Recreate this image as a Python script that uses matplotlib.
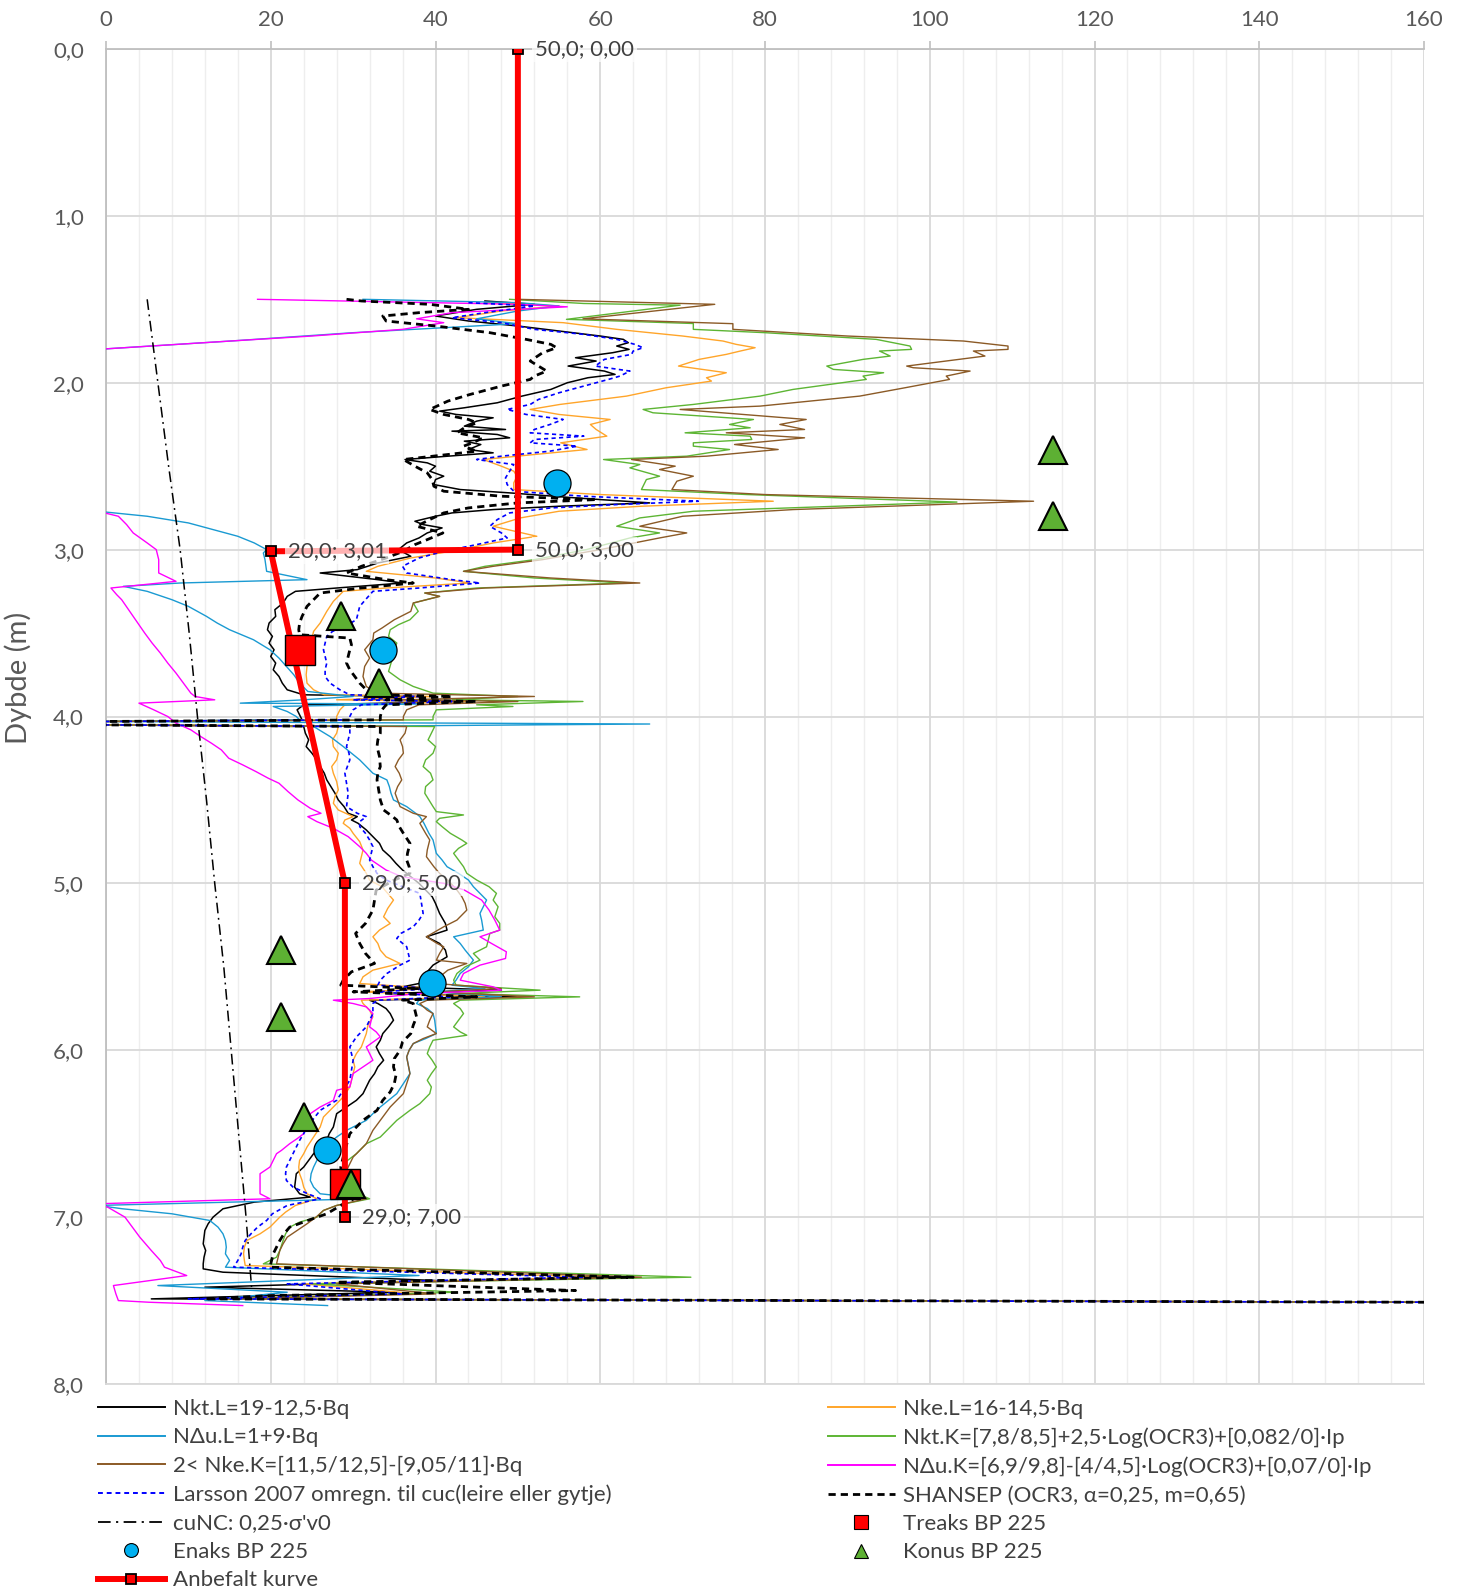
import matplotlib
matplotlib.use("Agg")
import matplotlib.pyplot as plt
from matplotlib.lines import Line2D
import numpy as np

plt.rcParams['font.family'] = ['Lato', 'DejaVu Sans']

# ---------------- data: undrained shear strength cu (kPa) vs depth (m) ----------------
nkt_l_depth = [1.51, 1.53, 1.56, 1.60, 1.63, 1.66, 1.69, 1.72, 1.74, 1.76, 1.78, 1.80, 1.82, 1.85, 1.87, 1.90,
               1.93, 1.95, 1.97, 2.00, 2.04, 2.08, 2.12, 2.15, 2.17, 2.19, 2.21, 2.23, 2.26, 2.28, 2.29, 2.31,
               2.33, 2.35, 2.37, 2.40, 2.42, 2.44, 2.46, 2.48, 2.50, 2.53, 2.56, 2.58, 2.61, 2.64, 2.66, 2.69,
               2.71, 2.72, 2.74, 2.76, 2.78, 2.80, 2.83, 2.85, 2.87, 2.90, 2.93, 2.96, 3.00, 3.04, 3.08, 3.12,
               3.14, 3.18, 3.20, 3.23, 3.25, 3.28, 3.32, 3.36, 3.40, 3.44, 3.48, 3.52, 3.56, 3.60, 3.64, 3.68,
               3.72, 3.76, 3.80, 3.84, 3.87, 3.88, 3.90, 3.91, 3.93, 3.96, 4.00, 4.02, 4.03, 4.05, 4.06, 4.10,
               4.14, 4.18, 4.22, 4.26, 4.30, 4.34, 4.38, 4.42, 4.46, 4.50, 4.54, 4.58, 4.60, 4.62, 4.64, 4.68,
               4.72, 4.76, 4.80, 4.84, 4.88, 4.92, 4.96, 5.00, 5.04, 5.08, 5.12, 5.18, 5.24, 5.28, 5.32, 5.36,
               5.40, 5.44, 5.49, 5.53, 5.57, 5.60, 5.62, 5.64, 5.66, 5.68, 5.70, 5.72, 5.75, 5.78, 5.82, 5.86,
               5.90, 5.94, 5.98, 6.02, 6.06, 6.10, 6.14, 6.18, 6.22, 6.26, 6.30, 6.34, 6.38, 6.42, 6.46, 6.50,
               6.54, 6.58, 6.62, 6.66, 6.70, 6.74, 6.78, 6.82, 6.86, 6.88, 6.91, 6.95, 7.00, 7.04, 7.08, 7.12,
               7.16, 7.20, 7.24, 7.28, 7.31, 7.33, 7.38, 7.42, 7.45, 7.49, 7.51]
nkt_l_cu = [46, 52, 45, 40, 44, 50, 55, 60, 62.8, 63.4, 62, 63.5, 61.5, 57, 59.5, 56.1,
            60.5, 61.8, 58.5, 56, 54, 50.5, 47.5, 43.5, 40.5, 42.5, 47, 45, 43.5, 48.5, 42, 47.5,
            49, 43.5, 45.5, 44, 47, 41.5, 36.3, 39, 40, 39.3, 41, 40, 39.8, 43, 49, 57,
            63, 66, 55, 47, 42, 40, 37.5, 38.5, 40.8, 39, 38, 36.5, 35.5, 37, 33, 30.5,
            26, 33, 36, 28, 23, 22, 21.5, 20.5, 20.6, 19.8, 19.6, 20.2, 19.8, 20.4, 20.0, 20.6,
            20.3, 21.0, 21.4, 22.0, 24, 38, 30, 44, 24, 23.2, 23.6, 23.8, -1, -1, 24, 24.2,
            24.6, 24.3, 25.0, 25.6, 26.0, 26.5, 26.8, 27.3, 27.8, 28.2, 28.9, 29.4, 30.5, 29.8, 30.6, 31.6,
            32.4, 33.2, 33.6, 34.5, 35.2, 36.0, 37.0, 38, 38.8, 39.6, 40.0, 40.5, 41.2, 41.4, 38.9, 40.5,
            41.2, 41.4, 39.7, 39.0, 40.5, 38, 36, 48, 34, 50, 32, 33.0, 34.0, 34.5, 34.9, 34.3,
            33.6, 33.3, 32.8, 33.2, 33.7, 33.0, 32.6, 32.0, 31.6, 31.2, 30.4, 29.2, 28.0, 27.8, 27.6, 27.1,
            26.8, 26.0, 25.2, 24.6, 24.0, 23.1, 23.0, 22.9, 23.5, 24.8, 18, 14.2, 13.0, 12.4, 12.0, 11.9,
            11.8, 12.1, 11.9, 11.8, 11.8, 14.2, 40, 12.0, 35, 5.5, 160]

nke_l_depth = [1.52, 1.54, 1.57, 1.61, 1.64, 1.68, 1.72, 1.75, 1.77, 1.79, 1.81, 1.83, 1.86, 1.90, 1.94, 1.97,
               1.99, 2.03, 2.08, 2.13, 2.16, 2.19, 2.22, 2.25, 2.28, 2.32, 2.36, 2.40, 2.43, 2.46, 2.50, 2.53,
               2.56, 2.60, 2.64, 2.67, 2.71, 2.74, 2.77, 2.81, 2.86, 2.92, 2.96, 3.00, 3.05, 3.10, 3.13, 3.17,
               3.20, 3.23, 3.25, 3.31, 3.37, 3.44, 3.49, 3.55, 3.60, 3.65, 3.70, 3.75, 3.80, 3.84, 3.87, 3.88,
               3.90, 3.91, 3.93, 3.96, 4.00, 4.02, 4.03, 4.05, 4.06, 4.10, 4.14, 4.18, 4.22, 4.26, 4.30, 4.34,
               4.39, 4.44, 4.48, 4.52, 4.56, 4.60, 4.62, 4.64, 4.67, 4.70, 4.75, 4.80, 4.84, 4.88, 4.94, 4.98,
               5.02, 5.06, 5.10, 5.15, 5.20, 5.24, 5.28, 5.32, 5.36, 5.40, 5.44, 5.48, 5.52, 5.56, 5.60, 5.63,
               5.65, 5.68, 5.70, 5.72, 5.76, 5.80, 5.85, 5.90, 5.94, 5.98, 6.02, 6.06, 6.10, 6.14, 6.18, 6.22,
               6.28, 6.34, 6.40, 6.46, 6.52, 6.58, 6.62, 6.66, 6.70, 6.74, 6.78, 6.82, 6.86, 6.89, 6.93, 6.97,
               7.00, 7.03, 7.06, 7.10, 7.14, 7.18, 7.22, 7.26, 7.29, 7.36, 7.40, 7.46, 7.49, 7.51]
nke_l_cu = [46, 55, 48, 42.6, 55.5, 62, 70, 74.9, 76.5, 78.8, 77, 75.3, 72, 69.5, 75.3, 72.9,
            73.5, 68, 63.2, 55.1, 51.5, 55, 61.2, 58.8, 59.5, 60.8, 55.2, 58.4, 52, 45.8, 48, 49.5,
            49.9, 49.5, 49.5, 60, 81.0, 65, 55, 50.3, 47.0, 52.3, 47, 43, 37, 33, 31.6, 40,
            44.2, 34, 28.8, 27.6, 26.8, 26.0, 25.2, 24.9, 24.8, 24.5, 24.4, 24.3, 24.4, 25.2, 26.5, 40,
            28, 44, 29, 28.4, 28.0, 28.0, -1, -1, 28.2, 28.0, 27.5, 27.6, 28.2, 28.0, 27.4, 27.6,
            28.0, 28.2, 27.8, 27.6, 28.2, 30.0, 29.0, 28.8, 29.6, 30.0, 30.8, 31.2, 31.0, 30.8, 31.6, 32.0,
            33.5, 34.2, 34.9, 34.2, 33.7, 34.5, 33.2, 32.4, 33.0, 33.3, 34, 35.7, 32.4, 31.2, 30.8, 40,
            31, 46, 31, 31.2, 32.0, 32.4, 31.8, 31.6, 31.3, 31.0, 30.4, 30.0, 30.2, 30.0, 29.8, 29.6,
            28.8, 27.6, 26.4, 26.0, 25.2, 24.4, 24.0, 23.5, 23.4, 23.5, 23.8, 24.0, 24.4, 25.6, 23, 21.8,
            21.1, 20.5, 19.9, 18.7, 17.1, 16.8, 16.7, 16.8, 16.9, 60, 24, 38, 12, 160]

ndu_l_depth = [1.50, 1.52, 1.54, 1.57, 1.617, 1.646, 1.70, 1.75, 1.80, 2.77, 2.80, 2.84, 2.88, 2.92, 2.96, 3.00,
               3.02, 3.06, 3.13, 3.18, 3.20, 3.22, 3.25, 3.30, 3.34, 3.40, 3.44, 3.48, 3.54, 3.60, 3.65, 3.70,
               3.75, 3.80, 3.85, 3.88, 3.90, 3.92, 3.925, 3.94, 3.97, 4.00, 4.02, 4.03, 4.045, 4.06, 4.09, 4.12,
               4.15, 4.18, 4.22, 4.26, 4.30, 4.34, 4.38, 4.42, 4.46, 4.50, 4.54, 4.58, 4.60, 4.64, 4.70, 4.74,
               4.78, 4.82, 4.86, 4.90, 4.94, 4.98, 5.02, 5.06, 5.10, 5.14, 5.18, 5.22, 5.28, 5.32, 5.36, 5.40,
               5.46, 5.50, 5.54, 5.58, 5.61, 5.63, 5.65, 5.68, 5.70, 5.72, 5.75, 5.78, 5.82, 5.86, 5.90, 5.93,
               5.96, 6.00, 6.04, 6.09, 6.14, 6.20, 6.26, 6.30, 6.34, 6.38, 6.42, 6.48, 6.52, 6.56, 6.60, 6.66,
               6.70, 6.74, 6.78, 6.82, 6.86, 6.89, 6.93, 6.95, 6.98, 7.02, 7.06, 7.10, 7.14, 7.18, 7.22, 7.26,
               7.30, 7.35, 7.41, 7.45, 7.50, 7.53]
ndu_l_cu = [31.2, 50, 55, 50, 45, 49.9, 30, 15.1, -1, -1, 5, 10, 13, 16, 18, 19.5,
            19.1, 19.3, 19.5, 24.4, 9, 2.1, 5, 8, 10, 12.2, 13.5, 15.0, 17.9, 19.9, 21, 21.9,
            22.8, 23.5, 24.5, 30, 24, 16.3, 38, 20.3, 22, 23.1, 23.5, -1, 66, 25.2, 26.2, 27.2,
            28, 28.8, 29.8, 30.8, 31.6, 32.4, 34.1, 34.4, 34.6, 34.9, 36.5, 37.6, 38.1, 38.6, 39.2, 39.7,
            39.9, 40.1, 40.8, 41.4, 42.8, 44.0, 44.6, 45.4, 46.2, 45.8, 45.4, 45.6, 45.8, 42.2, 43.0, 43.6,
            44.6, 44.0, 43.0, 42.5, 42, 46, 40, 48, 38, 37.7, 39.0, 39.7, 39.9, 40.0, 40.1, 38.8,
            37.3, 36.8, 36.5, 36.7, 36.9, 36.1, 35.3, 34.3, 33.3, 32.4, 31.6, 29.2, 28, 27, 26.2, 25.6,
            25.2, 24.9, 24.8, 25.2, 26.0, 31.6, -1, 2, 8, 12.6, 13.6, 14.2, 14.5, 14.6, 14.5, 15.0,
            14.5, 38, 6.3, 22, 12, 26.9]

nkt_k_depth = [1.50, 1.525, 1.535, 1.62, 1.645, 1.68, 1.70, 1.74, 1.78, 1.80, 1.81, 1.84, 1.86, 1.90, 1.92, 1.94,
               1.96, 1.98, 2.04, 2.08, 2.13, 2.16, 2.18, 2.22, 2.25, 2.27, 2.30, 2.32, 2.34, 2.36, 2.38, 2.40,
               2.44, 2.46, 2.49, 2.51, 2.56, 2.58, 2.64, 2.67, 2.715, 2.77, 2.81, 2.86, 2.90, 2.93, 3.00, 3.06,
               3.10, 3.13, 3.17, 3.20, 3.23, 3.26, 3.28, 3.32, 3.37, 3.42, 3.45, 3.48, 3.52, 3.56, 3.60, 3.64,
               3.68, 3.73, 3.78, 3.82, 3.86, 3.88, 3.90, 3.91, 3.93, 3.94, 3.96, 4.00, 4.02, 4.03, 4.05, 4.06,
               4.10, 4.14, 4.18, 4.22, 4.26, 4.30, 4.34, 4.38, 4.42, 4.46, 4.50, 4.54, 4.57, 4.59, 4.61, 4.63,
               4.66, 4.70, 4.74, 4.76, 4.79, 4.82, 4.86, 4.90, 4.94, 4.98, 5.02, 5.06, 5.10, 5.14, 5.20, 5.24,
               5.28, 5.30, 5.34, 5.38, 5.42, 5.46, 5.50, 5.54, 5.58, 5.61, 5.64, 5.66, 5.68, 5.70, 5.72, 5.75,
               5.78, 5.82, 5.86, 5.89, 5.91, 5.94, 5.98, 6.02, 6.06, 6.10, 6.14, 6.18, 6.22, 6.26, 6.30, 6.32,
               6.36, 6.42, 6.48, 6.52, 6.56, 6.62, 6.68, 6.74, 6.80, 6.86, 6.89, 6.93, 6.96, 7.00, 7.03, 7.06,
               7.10, 7.14, 7.20, 7.24, 7.28, 7.36, 7.40, 7.45, 7.49, 7.51]
nkt_k_cu = [49, 58, 69.7, 55.9, 71.3, 71.3, 80, 93.5, 97.6, 97.8, 93.9, 95.2, 91.9, 87.5, 88.3, 94.4,
            91.9, 92.3, 83.4, 79.4, 71.3, 65.2, 66.4, 78.6, 75.7, 78.2, 70.3, 78.2, 78.4, 71.3, 71.3, 75.7,
            70.5, 60.4, 64.8, 63.6, 67.2, 65.6, 65.0, 77.8, 103.3, 71.3, 64.8, 62.0, 67.2, 63.6, 58.3, 52,
            46, 43.4, 52, 63, 45, 38.7, 40.5, 37.3, 37.9, 36.9, 35.5, 34.5, 34.3, 35.3, 35.0, 34.9,
            34.6, 34.3, 35.7, 37.3, 39.7, 50, 42, 57.9, 45, 49.4, 40.1, 39.7, 39.7, -1, -1, 39.9,
            39.5, 39.1, 40.0, 39.7, 38.8, 38.5, 39.4, 39.7, 38.8, 38.7, 39.2, 39.7, 40.1, 43.4, 40.5, 40.1,
            40.8, 41.8, 43.2, 43.8, 42.8, 42.2, 42.8, 43.4, 43.8, 45, 46.5, 47.4, 47.0, 47.6, 47.2, 47.8,
            47.8, 46.6, 46.4, 46.2, 44.6, 45.4, 43.6, 42.6, 42.2, 42.5, 52.7, 43, 57.5, 43, 42.2, 43.0,
            43.4, 42.8, 42.2, 43.0, 43.8, 39.7, 39.3, 39.0, 39.6, 40.1, 39.5, 39.0, 39.5, 39.3, 38.5, 38.1,
            36.9, 35.3, 34.1, 33.3, 31.6, 30.4, 28.8, 29.5, 30, 30.5, 32.0, 28, 26.4, 25.6, 23.5, 22.3,
            21.8, 21.5, 21.1, 20.7, 19.1, 71, 25, 42.6, 15, 160]

nke_k_depth = [1.50, 1.53, 1.617, 1.646, 1.68, 1.72, 1.75, 1.78, 1.80, 1.81, 1.84, 1.87, 1.90, 1.91, 1.93, 1.96,
               1.98, 2.03, 2.08, 2.14, 2.16, 2.22, 2.25, 2.28, 2.30, 2.33, 2.37, 2.40, 2.44, 2.46, 2.50, 2.52,
               2.56, 2.59, 2.64, 2.67, 2.71, 2.76, 2.80, 2.86, 2.90, 2.93, 3.00, 3.06, 3.10, 3.13, 3.17, 3.20,
               3.23, 3.26, 3.28, 3.32, 3.37, 3.42, 3.47, 3.50, 3.54, 3.60, 3.65, 3.70, 3.76, 3.82, 3.86, 3.88,
               3.90, 3.91, 3.93, 3.96, 4.00, 4.02, 4.03, 4.05, 4.06, 4.10, 4.14, 4.18, 4.22, 4.26, 4.30, 4.34,
               4.38, 4.42, 4.46, 4.50, 4.54, 4.58, 4.60, 4.64, 4.70, 4.74, 4.80, 4.84, 4.90, 4.94, 4.98, 5.04,
               5.08, 5.12, 5.16, 5.22, 5.26, 5.32, 5.36, 5.38, 5.42, 5.46, 5.48, 5.52, 5.56, 5.60, 5.63, 5.65,
               5.68, 5.70, 5.72, 5.76, 5.78, 5.82, 5.86, 5.90, 5.93, 5.96, 6.00, 6.04, 6.09, 6.14, 6.20, 6.26,
               6.30, 6.34, 6.38, 6.42, 6.48, 6.52, 6.56, 6.60, 6.64, 6.68, 6.72, 6.78, 6.84, 6.89, 6.93, 6.96,
               7.00, 7.04, 7.08, 7.12, 7.16, 7.20, 7.24, 7.28, 7.36, 7.40, 7.46, 7.49, 7.51]
nke_k_cu = [50, 73.9, 57.9, 76.1, 76.1, 90, 104.1, 109.5, 109.5, 105.3, 106.7, 102.0, 97.2, 98, 104.9, 102.0,
            102.4, 97, 91.5, 79.4, 69.7, 85.0, 81.8, 84.8, 75.3, 84.8, 76.3, 81.6, 72.9, 63.8, 69.1, 67.2,
            71.3, 69.3, 68.7, 80, 112.6, 83.4, 70, 64.8, 70.5, 67.2, 60, 53, 47, 43.4, 54, 64.8,
            46, 38.7, 40.5, 37.3, 37.0, 35.0, 33.5, 32.5, 32.4, 31.4, 32.0, 31.4, 31.2, 31.6, 32.9, 52,
            36, 50, 38, 36.5, 36.1, 36.1, -1, -1, 36.5, 36.3, 35.7, 36.0, 36.1, 35.5, 35.1, 35.6,
            35.9, 35.4, 35.1, 35.4, 35.7, 37.3, 38.9, 38.1, 38.8, 39.3, 39.0, 38.9, 39.8, 40.5, 41.5, 42.6,
            43.2, 43.6, 43.8, 42.6, 41.0, 38.9, 40.2, 41.0, 40.5, 40.1, 43.8, 41.5, 40.5, 40, 48, 40,
            52, 39, 38.1, 39.0, 39.7, 39.3, 39.0, 40.1, 38.5, 37.3, 36.8, 36.5, 36.7, 36.9, 36.5, 36.1,
            35.3, 34.5, 33.9, 33.3, 32.4, 32.0, 31.6, 30.8, 30.0, 29.6, 29.2, 29.5, 30.2, 31.6, 28, 26.4,
            25.5, 24.4, 23.2, 22.0, 21.5, 21.1, 20.9, 20.7, 65, 28, 40, 15, 160]

ndu_k_depth = [1.50, 1.53, 1.545, 1.58, 1.617, 1.64, 1.68, 1.72, 1.75, 1.80, 2.77, 2.80, 2.85, 2.90, 2.96, 3.00,
               3.06, 3.14, 3.19, 3.23, 3.27, 3.30, 3.35, 3.40, 3.45, 3.50, 3.56, 3.62, 3.68, 3.74, 3.80, 3.86,
               3.88, 3.90, 3.92, 3.96, 4.00, 4.04, 4.08, 4.12, 4.16, 4.20, 4.25, 4.29, 4.33, 4.37, 4.40, 4.45,
               4.50, 4.55, 4.58, 4.60, 4.63, 4.67, 4.72, 4.78, 4.82, 4.86, 4.92, 4.96, 5.00, 5.04, 5.10, 5.16,
               5.22, 5.28, 5.32, 5.36, 5.41, 5.45, 5.49, 5.54, 5.58, 5.62, 5.64, 5.66, 5.69, 5.70, 5.72, 5.74,
               5.78, 5.82, 5.86, 5.89, 5.92, 5.98, 6.02, 6.06, 6.10, 6.14, 6.18, 6.22, 6.24, 6.30, 6.34, 6.38,
               6.44, 6.50, 6.53, 6.56, 6.60, 6.62, 6.66, 6.70, 6.74, 6.80, 6.86, 6.89, 6.92, 6.94, 7.00, 7.06,
               7.12, 7.20, 7.26, 7.30, 7.35, 7.41, 7.46, 7.50, 7.51, 7.53]
ndu_k_cu = [18.4, 50, 56, 42, 37.7, 41, 36, 25, 15.1, -1, -1, 1.5, 2.5, 3.3, 5, 6.1,
            6.4, 6.4, 8.5, 0.6, 1.3, 1.9, 2.6, 3.3, 4.0, 4.7, 5.6, 6.6, 7.5, 8.5, 9.4, 10.3,
            10.8, 13.2, 4.0, 5.8, 7.5, 8.5, 10.3, 11.5, 12.8, 14, 14.9, 16.6, 18.2, 19.7, 21.0, 22.1,
            23.3, 24.8, 26.1, 24.5, 25.6, 27.6, 29.4, 30.8, 31.6, 32.2, 34, 35.9, 41.0, 43.5, 45.6, 46.5,
            47.2, 47.8, 45.4, 46.8, 48.6, 48.5, 45.4, 43.4, 43, 47, 48, 38, 32, 27.6, 30, 31.6,
            32.4, 32.2, 32.0, 32.8, 33.3, 31.6, 32.0, 32.4, 31.2, 30.0, 29.8, 29.6, 28.0, 27.6, 26.0, 24.8,
            24.4, 24.0, 23.2, 22.3, 21.3, 20.7, 20.3, 19.9, 18.7, 18.7, 18.7, 19.9, -1, 0.2, 2.3, 3.2,
            4.1, 5.5, 6.6, 7.1, 9.8, 0.9, 1.2, 1.5, 5.2, 16.6]

larsson_depth = [1.52, 1.54, 1.58, 1.61, 1.64, 1.68, 1.71, 1.74, 1.77, 1.79, 1.81, 1.83, 1.86, 1.90, 1.93, 1.96,
                 1.98, 2.02, 2.06, 2.10, 2.13, 2.16, 2.19, 2.22, 2.25, 2.28, 2.30, 2.32, 2.34, 2.36, 2.38, 2.41,
                 2.44, 2.46, 2.49, 2.53, 2.57, 2.61, 2.65, 2.68, 2.71, 2.73, 2.75, 2.78, 2.82, 2.86, 2.90, 2.93,
                 2.97, 3.01, 3.05, 3.10, 3.14, 3.18, 3.20, 3.23, 3.25, 3.30, 3.34, 3.38, 3.42, 3.46, 3.49, 3.52,
                 3.56, 3.60, 3.64, 3.68, 3.72, 3.76, 3.80, 3.84, 3.87, 3.88, 3.90, 3.91, 3.93, 3.96, 4.00, 4.02,
                 4.03, 4.05, 4.06, 4.10, 4.14, 4.18, 4.22, 4.26, 4.30, 4.34, 4.40, 4.46, 4.50, 4.54, 4.58, 4.60,
                 4.63, 4.66, 4.70, 4.74, 4.78, 4.82, 4.86, 4.90, 4.94, 4.98, 5.02, 5.06, 5.12, 5.18, 5.22, 5.26,
                 5.30, 5.33, 5.38, 5.42, 5.46, 5.49, 5.54, 5.58, 5.61, 5.63, 5.65, 5.68, 5.70, 5.72, 5.78, 5.82,
                 5.86, 5.92, 5.98, 6.02, 6.06, 6.12, 6.18, 6.24, 6.30, 6.36, 6.41, 6.46, 6.50, 6.54, 6.58, 6.62,
                 6.66, 6.70, 6.74, 6.78, 6.82, 6.86, 6.89, 6.93, 6.98, 7.02, 7.06, 7.10, 7.14, 7.18, 7.22, 7.26,
                 7.30, 7.36, 7.40, 7.46, 7.49, 7.51]
larsson_cu = [44, 52, 46, 42, 48, 52, 58, 62, 64.2, 65.2, 64, 63.8, 60.5, 59.4, 63.6, 62.4,
              61, 58, 55, 52.5, 51.5, 48.7, 51, 55.5, 53.9, 52, 51.5, 58, 52, 51.5, 57.2, 53.9,
              48, 45, 49.5, 49.0, 48.5, 48.7, 49.5, 58, 71.9, 62, 54, 49, 47.5, 46.6, 48, 48.7,
              45, 41, 38, 36, 36.5, 42, 45.4, 38, 32.4, 31.5, 30.8, 30.6, 30.4, 29, 27.5, 26.8,
              26.6, 26.4, 26.6, 26.8, 26.6, 26.6, 27.2, 28.4, 29.6, 38, 30, 42, 31, 30, 29.6, 29.6,
              -1, -1, 29.6, 29.6, 29.4, 29.2, 29.5, 29.6, 29.3, 29.0, 29.2, 29.4, 29.3, 29.2, 30.5, 31.6,
              30.8, 30.8, 31.5, 32.0, 32.4, 32.2, 32.0, 32.4, 32.9, 34, 36, 38.1, 38.3, 38.5, 38, 37.3,
              35.8, 35.3, 36.5, 36.7, 36.9, 35.7, 34.1, 33.3, 33, 40, 33, 42, 33, 32.4, 32.4, 32,
              31.6, 30.4, 29.6, 29.8, 30.0, 29.8, 29.6, 28.8, 28.0, 26.0, 25.2, 24.4, 24.0, 23.5, 23.1, 22.7,
              22.3, 21.9, 21.8, 21.9, 22.7, 24.5, 26, 22, 20.2, 19.5, 18.4, 17.6, 16.9, 16.6, 16.4, 16.0,
              15.5, 58, 22, 36, 10, 160]

shansep_depth = [1.50, 1.51, 1.53, 1.56, 1.58, 1.60, 1.63, 1.66, 1.70, 1.74, 1.77, 1.79, 1.82, 1.87, 1.90, 1.93,
                 1.96, 1.98, 2.02, 2.07, 2.11, 2.16, 2.19, 2.22, 2.24, 2.27, 2.30, 2.33, 2.36, 2.38, 2.41, 2.43,
                 2.46, 2.50, 2.54, 2.58, 2.62, 2.65, 2.68, 2.70, 2.72, 2.75, 2.78, 2.82, 2.86, 2.90, 2.94, 2.97,
                 3.01, 3.05, 3.10, 3.14, 3.18, 3.20, 3.23, 3.26, 3.30, 3.34, 3.40, 3.44, 3.48, 3.51, 3.53, 3.57,
                 3.60, 3.64, 3.68, 3.72, 3.76, 3.80, 3.84, 3.87, 3.88, 3.90, 3.91, 3.93, 3.96, 4.00, 4.02, 4.03,
                 4.05, 4.06, 4.10, 4.14, 4.18, 4.24, 4.30, 4.34, 4.38, 4.44, 4.50, 4.56, 4.60, 4.62, 4.66, 4.70,
                 4.76, 4.82, 4.86, 4.90, 4.94, 4.98, 5.04, 5.10, 5.16, 5.24, 5.30, 5.36, 5.42, 5.48, 5.53, 5.58,
                 5.61, 5.63, 5.65, 5.68, 5.70, 5.72, 5.76, 5.80, 5.85, 5.90, 5.95, 6.00, 6.05, 6.10, 6.15, 6.20,
                 6.25, 6.30, 6.36, 6.42, 6.46, 6.50, 6.55, 6.60, 6.70, 6.80, 6.88, 6.93, 6.98, 7.02, 7.06, 7.10,
                 7.14, 7.18, 7.22, 7.26, 7.30, 7.36, 7.39, 7.44, 7.47, 7.49, 7.51]
shansep_cu = [29.2, 31, 39.3, 44, 38, 33.6, 34.0, 40, 46.6, 51, 54.0, 54.7, 53, 51.5, 52.5, 53.5,
              52, 51.5, 48, 44.2, 41.5, 39.3, 41, 44, 45.0, 43.5, 42.6, 45.8, 44.5, 43.4, 45.0, 41.5,
              36.1, 37.5, 39.0, 39.6, 39.8, 41, 48, 59.6, 50, 44, 41, 39.3, 37.7, 40.9, 39, 37.5,
              36.1, 34, 31, 29.2, 34, 37.3, 31, 26, 25.2, 24.4, 23.8, 23.5, 23.4, 23.5, 29.6, 29.8,
              29.6, 29.4, 29.2, 29.6, 30.2, 30.8, 31.6, 33, 42, 34, 45, 34, 33.5, 33.3, 33.3, -1,
              -1, 33.3, 33.3, 33.0, 32.9, 33.2, 33.3, 33.0, 32.9, 33.1, 33.3, 33.7, 34.8, 35.3, 35.6, 36.1,
              36.9, 36.6, 36.5, 36.8, 36.9, 35, 32.8, 32.6, 32.4, 31.5, 30.3, 30.8, 31.5, 32.6, 29.8, 28.8,
              28.5, 38, 30, 45, 36, 37.3, 37.5, 37.7, 37.3, 37.0, 36.0, 35.7, 35.0, 34.9, 35.2, 35.0,
              34.5, 33.6, 32.9, 31.2, 30.4, 29.6, 29.3, 29.0, 28.5, 28.7, 30.5, 28.5, 26.8, 24.5, 22.3, 21.6,
              21.1, 20.7, 20.3, 20.1, 19.9, 64, 28, 57, 20, 12, 160]

cunc_depth = [1.5, 2.0, 2.5, 3.0, 3.5, 4.0, 4.5, 5.0, 5.5, 6.0, 6.5, 7.0, 7.44]
cunc_cu = [5.0, 6.3, 7.6, 9.0, 10.1, 11.1, 12.2, 13.2, 14.3, 15.2, 16.1, 17.0, 17.7]

# laboratory and cone tests, BP 225
treaks_depth = [3.6, 6.8]
treaks_cu = [23.5, 29.0]
enaks_depth = [2.6, 3.6, 5.6, 6.6]
enaks_cu = [54.7, 33.6, 39.6, 26.8]
konus_depth = [2.4, 2.8, 3.4, 3.8, 5.4, 5.8, 6.4, 6.8]
konus_cu = [115.0, 115.0, 28.5, 33.2, 21.2, 21.2, 24.0, 29.8]

# recommended design profile
anbefalt_depth = [0.00, 3.00, 3.01, 5.00, 7.00]
anbefalt_cu = [50.0, 50.0, 20.0, 29.0, 29.0]

x_ticks = [0, 20, 40, 60, 80, 100, 120, 140, 160]
y_ticks = [0, 1, 2, 3, 4, 5, 6, 7, 8]

# ---------------- figure ----------------
W, H = 1461, 1588
fig = plt.figure(figsize=(W / 100, H / 100), dpi=100)
ax = fig.add_axes([106 / W, 1 - 1384 / H, 1318 / W, 1335 / H])

ax.set_xlim(0, 160)
ax.set_ylim(8, 0)
ax.xaxis.tick_top()
ax.set_xticks(x_ticks)
ax.set_xticks(np.arange(0, 161, 4), minor=True)
ax.set_yticks(y_ticks)
ax.set_yticklabels([f"{v:.1f}".replace('.', ',') for v in y_ticks])
ax.tick_params(axis='x', which='major', length=6, width=1.2, color='#BFBFBF', pad=8,
               labelsize=16, labelcolor='#595959')
ax.tick_params(axis='x', which='minor', length=0)
ax.tick_params(axis='y', which='major', length=0, pad=16, labelsize=16, labelcolor='#595959')

ax.grid(True, which='major', axis='both', color='#D9D9D9', lw=1.3, zorder=0)
ax.grid(True, which='minor', axis='x', color='#EEEEEE', lw=1.0, zorder=0)
ax.set_axisbelow(True)
for side in ['top', 'left']:
    ax.spines[side].set_color('#BFBFBF')
    ax.spines[side].set_linewidth(1.3)
ax.spines['right'].set_visible(False)
ax.spines['bottom'].set_color('#D9D9D9')
ax.spines['bottom'].set_linewidth(1.3)

thin = 1.0
ax.plot(nkt_l_cu, nkt_l_depth, color='black', lw=1.1, zorder=3)
ax.plot(nke_l_cu, nke_l_depth, color='#FFA52A', lw=thin, zorder=3)
ax.plot(ndu_l_cu, ndu_l_depth, color='#1A9AD2', lw=thin, zorder=3)
ax.plot(nkt_k_cu, nkt_k_depth, color='#5DB534', lw=thin, zorder=3)
ax.plot(nke_k_cu, nke_k_depth, color='#8B5A26', lw=thin, zorder=3)
ax.plot(ndu_k_cu, ndu_k_depth, color='#FF00FF', lw=thin, zorder=3)
ax.plot(larsson_cu, larsson_depth, color='#0000FF', lw=1.2, dashes=(2.5, 2.0), zorder=3)
ax.plot(shansep_cu, shansep_depth, color='black', lw=2.0, dashes=(2.6, 1.8), zorder=3)
ax.plot(cunc_cu, cunc_depth, color='black', lw=1.1, dashes=(7, 3, 1.2, 3), zorder=3)

ax.plot(anbefalt_cu, anbefalt_depth, color='#FF0000', lw=4.3, marker='s', ms=6.5,
        mfc='#FF0000', mec='black', mew=1.3, zorder=5, solid_joinstyle='miter')

ax.plot(treaks_cu, treaks_depth, ls='none', marker='s', ms=21.5, mfc='#FF0000', mec='black',
        mew=1.0, zorder=6)
ax.plot(enaks_cu, enaks_depth, ls='none', marker='o', ms=19.5, mfc='#00B0F0', mec='black',
        mew=0.9, zorder=6)
ax.plot(konus_cu, konus_depth, ls='none', marker='^', ms=19.5, mfc='#5DB033', mec='black',
        mew=1.5, zorder=7)

# data labels for the recommended profile
for cu, d in zip(anbefalt_cu, anbefalt_depth):
    lab = f"{cu:.1f}; {d:.2f}".replace('.', ',')
    ax.annotate(lab, (cu, d), xytext=(17, 0), textcoords='offset pixels', ha='left', va='center',
                fontsize=16, color='#404040', zorder=8,
                bbox=dict(boxstyle='square,pad=0.12', fc='white', ec='none', alpha=0.7))

fig.text(18 / W, 1 - 678 / H, 'Dybde (m)', rotation=90, ha='center', va='center',
         fontsize=21, color='#595959')

# ---------------- legend ----------------
def h_line(color, lw=1.2, dashes=None):
    kw = dict(color=color, lw=lw)
    if dashes is not None:
        kw['dashes'] = dashes
    return Line2D([], [], **kw)

col1 = [
    (h_line('black', 1.4), 'Nkt.L=19-12,5·Bq'),
    (h_line('#1A9AD2', 1.4), 'NΔu.L=1+9·Bq'),
    (h_line('#8B5A26', 1.4), '2< Nke.K=[11,5/12,5]-[9,05/11]·Bq'),
    (h_line('#0000FF', 1.4, (2.5, 2.0)), 'Larsson 2007 omregn. til cuc(leire eller gytje)'),
    (h_line('black', 1.3, (7, 3, 1.2, 3)), "cuNC: 0,25·σ'v0"),
    (Line2D([], [], ls='none', marker='o', ms=10, mfc='#00B0F0', mec='black', mew=0.8), 'Enaks BP 225'),
    (Line2D([], [], color='#FF0000', lw=4.3, marker='s', ms=6.5, mfc='#FF0000', mec='black', mew=1.3),
     'Anbefalt kurve'),
]
col2 = [
    (h_line('#FFA52A', 1.4), 'Nke.L=16-14,5·Bq'),
    (h_line('#5DB534', 1.4), 'Nkt.K=[7,8/8,5]+2,5·Log(OCR3)+[0,082/0]·Ip'),
    (h_line('#FF00FF', 1.4), 'NΔu.K=[6,9/9,8]-[4/4,5]·Log(OCR3)+[0,07/0]·Ip'),
    (h_line('black', 2.0, (2.6, 1.8)), 'SHANSEP (OCR3, α=0,25, m=0,65)'),
    (Line2D([], [], ls='none', marker='s', ms=10, mfc='#FF0000', mec='black', mew=0.8), 'Treaks BP 225'),
    (Line2D([], [], ls='none', marker='^', ms=10, mfc='#5DB033', mec='black', mew=0.8), 'Konus BP 225'),
]

leg_kw = dict(frameon=False, fontsize=16, handlelength=3.0, handletextpad=0.36, labelspacing=0.38,
              borderpad=0, borderaxespad=0, loc='upper left', bbox_transform=fig.transFigure,
              labelcolor='#404040')
fig.legend([h for h, _ in col1], [t for _, t in col1], bbox_to_anchor=(98 / W, 1 - 1399 / H), **leg_kw)
fig.legend([h for h, _ in col2], [t for _, t in col2], bbox_to_anchor=(828 / W, 1 - 1399 / H), **leg_kw)

fig.savefig('out.png', dpi=100)
